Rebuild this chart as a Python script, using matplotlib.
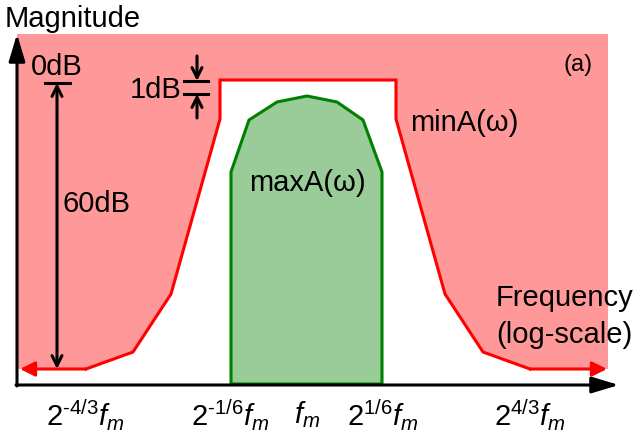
import matplotlib
matplotlib.use('Agg')
import matplotlib.pyplot as plt
from matplotlib.patches import Polygon

plt.rcParams['font.family'] = ['Liberation Sans', 'DejaVu Sans']
plt.rcParams['mathtext.fontset'] = 'custom'
plt.rcParams['mathtext.rm'] = 'Liberation Sans'
plt.rcParams['mathtext.it'] = 'Liberation Sans:italic'

# schematic diagram coordinates (y grows downward)
min_x = [20, 86, 133, 171, 220, 220, 396, 396, 445, 483, 530, 607]
min_y = [370, 370, 353, 295, 120, 81, 81, 120, 295, 353, 370, 370]
max_x = [231, 231, 249, 277, 307, 337, 363, 382, 382]
max_y = [385, 173, 121, 103, 97, 103, 121, 173, 385]
tick_x = [85, 230, 307, 383, 530]
tick_labels = ['$2^{\u2010 4/3}\\mathit{f}_m$', '$2^{\u2010 1/6}\\mathit{f}_m$', r'$\mathit{f}_m$',
               r'$2^{1/6}\mathit{f}_m$', r'$2^{4/3}\mathit{f}_m$']

fig = plt.figure(figsize=(6.38, 4.39), dpi=100)
ax = fig.add_axes([0, 0, 1, 1])
ax.set_xlim(0, 638)
ax.set_ylim(439, 0)
ax.axis('off')

red_fill = '#ff9999'
green_fill = '#99cc99'
fs = 21

# forbidden region above minA
top = 35
poly = [(17, top), (608, top), (608, min_y[-1])]
poly += list(zip(min_x[::-1], min_y[::-1]))[1:-1]
poly += [(17, min_y[0])]
ax.add_patch(Polygon(poly, closed=True, facecolor=red_fill, edgecolor='none'))

# minA line with arrow ends
ax.plot(min_x[1:-1], min_y[1:-1], color='red', lw=2.2, solid_joinstyle='miter')
ax.annotate('', xy=(min_x[0], min_y[0]), xytext=(min_x[1], min_y[1]),
            arrowprops=dict(arrowstyle='-|>', color='red', lw=2.2, mutation_scale=22, shrinkA=0, shrinkB=0))
ax.annotate('', xy=(min_x[-1], min_y[-1]), xytext=(min_x[-2], min_y[-2]),
            arrowprops=dict(arrowstyle='-|>', color='red', lw=2.2, mutation_scale=22, shrinkA=0, shrinkB=0))

# maxA region
ax.add_patch(Polygon(list(zip(max_x, max_y)), closed=True, facecolor=green_fill,
                     edgecolor='#008000', lw=2.2))

# axes arrows
axis_style = '-|>,head_length=1.1,head_width=0.33'
ax.annotate('', xy=(17, top), xytext=(17, 387),
            arrowprops=dict(arrowstyle=axis_style, color='black', lw=2.2,
                            mutation_scale=15, shrinkA=0, shrinkB=0))
ax.annotate('', xy=(619, 386), xytext=(16, 386),
            arrowprops=dict(arrowstyle=axis_style, color='black', lw=2.2,
                            mutation_scale=15, shrinkA=0, shrinkB=0))

# 60dB span
ax.annotate('', xy=(57, 84), xytext=(57, 370),
            arrowprops=dict(arrowstyle='<->', color='black', lw=2.2, mutation_scale=18, shrinkA=0, shrinkB=0))
ax.plot([45, 70], [84, 84], color='black', lw=2.2)

# 1dB marker
ax.plot([184, 208], [82, 82], color='black', lw=2.2)
ax.plot([184, 208], [95, 95], color='black', lw=2.2)
ax.annotate('', xy=(197, 82), xytext=(197, 57),
            arrowprops=dict(arrowstyle='->', color='black', lw=2.2, mutation_scale=18, shrinkA=0, shrinkB=0))
ax.annotate('', xy=(197, 95), xytext=(197, 119),
            arrowprops=dict(arrowstyle='->', color='black', lw=2.2, mutation_scale=18, shrinkA=0, shrinkB=0))

# texts
ax.text(5, 19, 'Magnitude', fontsize=fs, ha='left', va='center')
ax.text(57, 67, '0dB', fontsize=fs, ha='center', va='center')
ax.text(181, 90, '1dB', fontsize=fs, ha='right', va='center')
ax.text(97, 204, '60dB', fontsize=fs, ha='center', va='center')
ax.text(578, 65, '(a)', fontsize=17, ha='center', va='center')
ax.text(410, 123, 'minA(ω)', fontsize=fs, ha='left', va='center')
ax.text(307, 183, 'maxA(ω)', fontsize=fs, ha='center', va='center')
ax.text(633, 298, 'Frequency', fontsize=fs, ha='right', va='center')
ax.text(633, 335, '(log-scale)', fontsize=fs, ha='right', va='center')
for x, lab in zip(tick_x, tick_labels):
    ax.text(x, 415, lab, fontsize=fs, ha='center', va='center')

fig.savefig('out.png', dpi=100)
